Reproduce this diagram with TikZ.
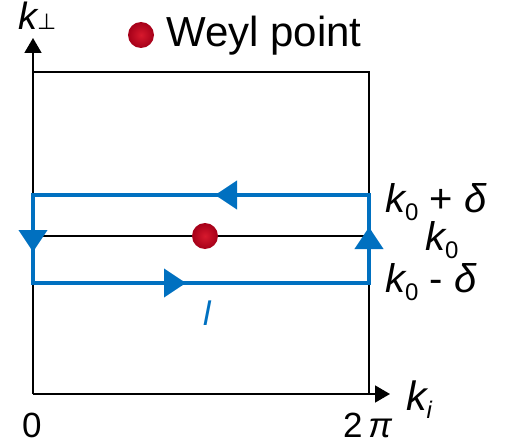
\documentclass[tikz,border=0pt]{standalone}
\usepackage{fontspec}
\setmainfont{Liberation Sans}
\newfontfamily\symfont{DejaVu Sans}
\usetikzlibrary{arrows.meta,positioning,decorations.markings}
\definecolor{loopblue}{RGB}{0,112,192}
\definecolor{weylin}{RGB}{215,25,45}
\definecolor{weylout}{RGB}{165,0,25}
\newcommand{\lowidx}[1]{\raisebox{-0.2em}{\fontsize{24}{24}\selectfont #1}}

\begin{document}
\begin{tikzpicture}[x=1pt,y=-1pt,>={Triangle[length=15pt,width=17pt]},font=\fontsize{40}{42}\selectfont]
\tikzstyle{lbl}=[inner sep=0pt,anchor=base west]
\tikzstyle{tick}=[lbl,font=\fontsize{35}{36}\selectfont]
\tikzstyle{ball}=[circle,minimum size=26pt,inner sep=0pt,shading=radial,inner color=weylin,outer color=weylout]
\tikzstyle{loop}=[loopblue,line width=4pt]
\useasboundingbox (0,0) rectangle (515,444);
\coordinate (o) at (33,394); \coordinate (ytip) at (33,38); \coordinate (xtip) at (390,394);
\coordinate (tl) at (33,72); \coordinate (tr) at (369,72); \coordinate (br) at (369,394);
\coordinate (lt) at (33,195); \coordinate (rt) at (369,195);
\coordinate (lb) at (33,283); \coordinate (rb) at (369,283);
\coordinate (lm) at (33,236); \coordinate (rm) at (369,236);
\draw[line width=1.6pt,->] (o) -- (ytip);
\draw[line width=1.6pt,->] (o) -- (xtip);
\draw[line width=1.6pt] (tl) -- (tr) -- (br);
\draw[line width=1.6pt] (lm) -- (rm);
\draw[loop,postaction={decorate},decoration={markings,
  mark=at position 154pt with {\arrow{Triangle[length=22pt,width=28pt]}},
  mark=at position 393pt with {\arrow{Triangle[length=22pt,width=28pt]}},
  mark=at position 577pt with {\arrow{Triangle[length=22pt,width=28pt]}},
  mark=at position 816pt with {\arrow{Triangle[length=22pt,width=28pt]}}}]
  (rt) -- (lt) -- (lb) -- (rb) -- cycle;
\node[ball] (wp) at (205,236) {};
\node[ball] (legdot) at (141,35) {};
\node[lbl,font=\fontsize{42}{44}\selectfont] (legtxt) at (166,47) {Weyl point};
\node[lbl,font=\fontsize{38}{40}\selectfont] (kperp) at (18,30) {\itshape k\symfont\fontsize{22}{22}\selectfont ⊥};
\node[lbl] (kup) at (385,212) {\itshape k\lowidx{\upshape 0} \upshape+ \itshape δ};
\node[lbl] (kmid) at (425,251) {\itshape k\lowidx{\upshape 0}};
\node[lbl] (kdown) at (385,292) {\itshape k\lowidx{\upshape 0} \upshape- \itshape δ};
\node[lbl,loopblue,font=\fontsize{34}{36}\selectfont] (lname) at (203,325) {\itshape l};
\node[tick] (zero) at (22,437) {0};
\node[tick] (twopi) at (343,437) {2\,\itshape π};
\node[lbl,font=\fontsize{41}{42}\selectfont] (ki) at (406,410) {\itshape k\lowidx{i}};
\end{tikzpicture}
\end{document}
